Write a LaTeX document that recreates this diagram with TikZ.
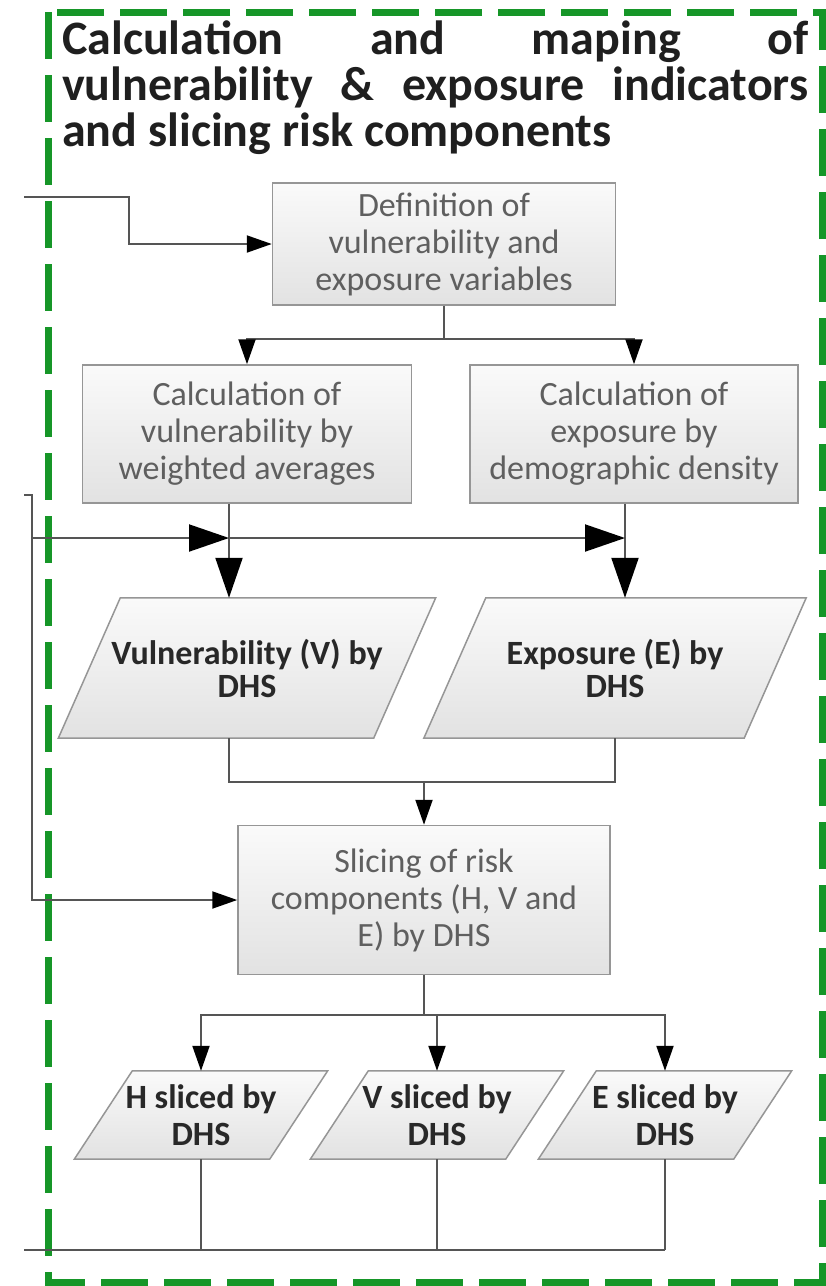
\documentclass[tikz,border=0pt]{standalone}
\usepackage{fontspec}
\setmainfont{Carlito}
\usetikzlibrary{arrows.meta, backgrounds}

\definecolor{framegreen}{RGB}{22,150,40}
\definecolor{boxline}{RGB}{150,150,150}
\definecolor{boxtop}{RGB}{250,250,250}
\definecolor{boxbot}{RGB}{226,226,226}
\definecolor{boxtext}{RGB}{95,95,95}
\definecolor{paratext}{RGB}{40,40,40}
\definecolor{conn}{RGB}{85,85,85}

\begin{document}
\begin{tikzpicture}[x=1pt, y=-1pt,
  proc node/.style={draw=boxline, line width=1.5pt, top color=boxtop, bottom color=boxbot, text=boxtext, align=center, inner sep=0pt, font=\fontsize{34}{37}\selectfont},
  data node/.style={align=center, inner sep=0pt, text=paratext, font=\bfseries\fontsize{34}{33}\selectfont},
  small data node/.style={data node, font=\bfseries\fontsize{34}{37}\selectfont},
  data shape/.style={draw=boxline, line width=1.5pt, top color=boxtop, bottom color=boxbot},
  conn line/.style={draw=conn, line width=2pt},
  arr/.style={conn line, -{Triangle[length=25pt, width=17pt, color=black]}},
  big arr/.style={conn line, -{Triangle[length=40pt, width=27pt, color=black]}},
  green frame/.style={draw=framegreen, line width=7pt, dash pattern=on 47pt off 16pt}]
\useasboundingbox (0,0) rectangle (826,1286);
\draw[green frame] (48,12) rectangle (822,1282);

\node[anchor=north west, text width=746pt, align=justify, inner sep=0pt, text=black!88, font=\bfseries\fontsize{48}{46}\selectfont] (title) at (62,21)
  {Calculation and maping of\linebreak vulnerability \& exposure indicators\linebreak and slicing risk components};

\node[proc node, minimum width=343pt, minimum height=122pt] (def) at (444,244) {Definition of\\vulnerability and\\exposure variables};
\node[proc node, minimum width=329pt, minimum height=138pt] (calcv) at (247,434) {Calculation of\\vulnerability by\\weighted averages};
\node[proc node, minimum width=328pt, minimum height=138pt] (calce) at (634,434) {Calculation of\\exposure by\\demographic density};
\node[data node, minimum width=315pt, minimum height=140pt] (vdhs) at (247,668) {Vulnerability (V) by\\DHS};
\node[data node, minimum width=320pt, minimum height=140pt] (edhs) at (615,668) {Exposure (E) by\\DHS};
\node[proc node, minimum width=372pt, minimum height=149pt] (slice) at (424,900) {Slicing of risk\\components (H, V and\\E) by DHS};
\foreach \n/\x/\lbl in {hs/201/H, vs/437/V, es/665/E}{
    \node[small data node, minimum width=195pt, minimum height=88pt] (\n) at (\x,1115) {\lbl{} sliced by\\DHS};}

\begin{scope}[on background layer]
\foreach \n/\s in {vdhs/31, edhs/31, hs/29, vs/29, es/29}{
    \path[data shape] ([xshift=\s]\n.north west) -- ([xshift=\s]\n.north east) -- ([xshift=-\s]\n.south east) -- ([xshift=-\s]\n.south west) -- cycle;}
\end{scope}

\coordinate (in1) at (24,197);
\coordinate (in2) at (24,495);
\coordinate (tap) at (32,538);
\coordinate (out) at (24,1250);

\draw[arr] (in1) -- ++(105,0) |- (def.west);
\draw[conn line] (def.south) -- ++(0,33) coordinate (split1);
\foreach \n in {calcv, calce}{
    \draw[arr] (split1) -| (\n.north);}

\coordinate (vdown) at ([xshift=-18]calcv.south);
\coordinate (edown) at ([xshift=-9]calce.south);
\draw[big arr] (vdown) -- (vdown |- vdhs.north);
\draw[big arr] (edown) -- (edown |- edhs.north);

\draw[arr] (in2) -- (in2 -| tap) |- (slice.west);
\draw[big arr] (tap) -- (tap -| vdown);
\draw[big arr] (tap -| vdown) -- (tap -| edown);

\draw[conn line] (vdown |- vdhs.south) -- ++(0,44) coordinate (merge) -| (edhs.south);
\draw[arr] (merge -| slice.north) -- (slice.north);

\draw[conn line] (slice.south) -- ++(0,40) coordinate (split2);
\foreach \n in {hs, vs, es}{
    \draw[arr] (split2) -| (\n.north);
    \draw[conn line] (\n.south) -- (\n.south |- out);}
\draw[conn line] (out) -- (out -| es.south);
\end{tikzpicture}
\end{document}
